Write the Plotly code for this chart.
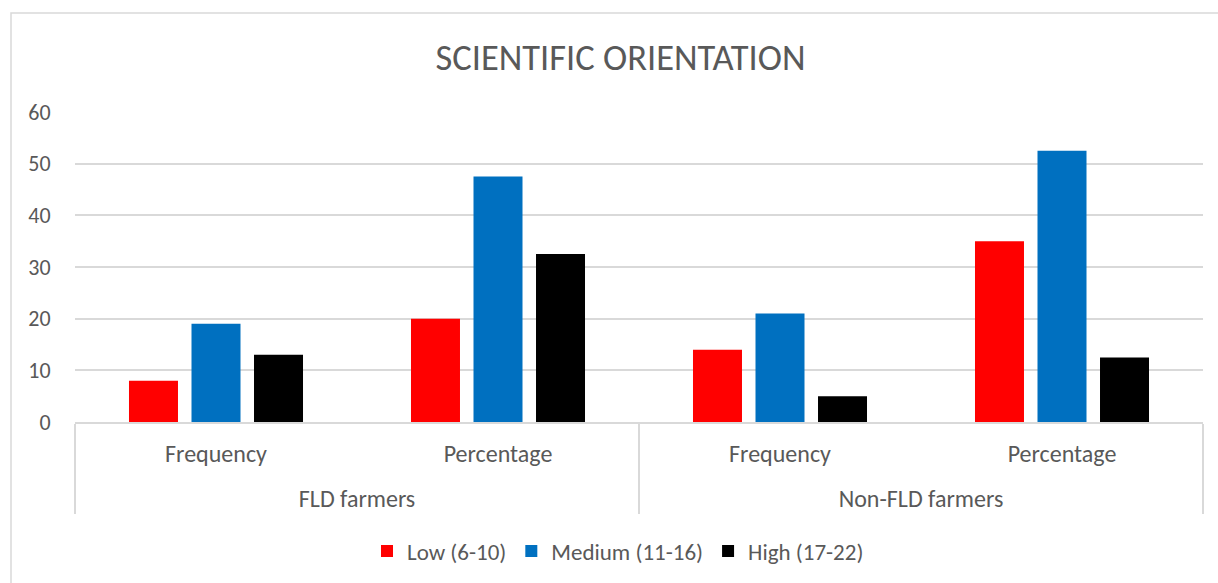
import plotly.graph_objects as go

# Data: scientific orientation of farmers
groups = ["FLD farmers", "FLD farmers", "Non-FLD farmers", "Non-FLD farmers"]
measures = ["Frequency", "Percentage", "Frequency", "Percentage"]
series_names = ["Low (6-10)", "Medium (11-16)", "High (17-22)"]
low = [8, 20, 14, 35]
medium = [19, 47.5, 21, 52.5]
high = [13, 32.5, 5, 12.5]
y_ticks = [0, 10, 20, 30, 40, 50, 60]

colors = ["#FF0000", "#0070C0", "#000000"]
TEXT = "#595959"
GRID = "#D9D9D9"
FONT = "Calibri, Carlito, Lato, sans-serif"

W, H = 1218, 583
L, R, T, B = 75, 15, 112, 161

LABEL_SPAN = "<span style='font-size:24px'>{}</span>"
# inner-level labels get an empty second line so the outer level sits lower
inner_labels = [LABEL_SPAN.format(m) + "<br>&nbsp;" for m in measures]
outer_labels = [LABEL_SPAN.format(g) for g in groups]

fig = go.Figure()
for name, vals, col in zip(series_names, [low, medium, high], colors):
    fig.add_trace(go.Bar(
        x=[outer_labels, inner_labels], y=vals, name=name,
        marker=dict(color=col, line=dict(width=0)),
    ))

fig.update_layout(
    width=W, height=H,
    margin=dict(l=L, r=R, t=T, b=B, autoexpand=False),
    paper_bgcolor="white", plot_bgcolor="white",
    font=dict(family=FONT, color=TEXT, size=23),
    barmode="group", bargap=0.335, bargroupgap=0.216,
    title=dict(text="SCIENTIFIC ORIENTATION", x=620.5 / W, xref="container", xanchor="center",
               y=1 - 57 / H, yref="container", yanchor="middle",
               font=dict(size=36.5, color=TEXT, family=FONT)),
    legend=dict(orientation="h", x=(618 - L) / (W - L - R), xanchor="center",
                y=(H - B - 551) / (H - T - B), yanchor="middle",
                font=dict(size=23, color=TEXT, family=FONT),
                itemwidth=30, traceorder="normal"),
    showlegend=True,
)
fig.update_xaxes(
    type="multicategory", showline=True, linecolor=GRID, linewidth=1.5,
    showdividers=True, dividercolor=GRID, dividerwidth=1.5,
    ticks="", ticklabelstandoff=13, tickfont=dict(size=21, color=TEXT, family=FONT),
    showgrid=False,
)
fig.update_yaxes(
    range=[0, 60], tickvals=y_ticks, showgrid=True, gridcolor=GRID, gridwidth=1.5,
    zeroline=False, showline=False, ticks="outside", ticklen=19, tickcolor="white",
    tickfont=dict(size=22, color=TEXT, family=FONT),
)

# Outer chart-area frame
fig.add_shape(type="rect", xref="paper", yref="paper",
              x0=(11 - L) / (W - L - R), x1=(1240 - L) / (W - L - R),
              y0=(H - B - 600) / (H - T - B), y1=(H - B - 13) / (H - T - B),
              line=dict(color=GRID, width=1.5), fillcolor="rgba(0,0,0,0)", layer="below")

fig.write_html("out.html")
